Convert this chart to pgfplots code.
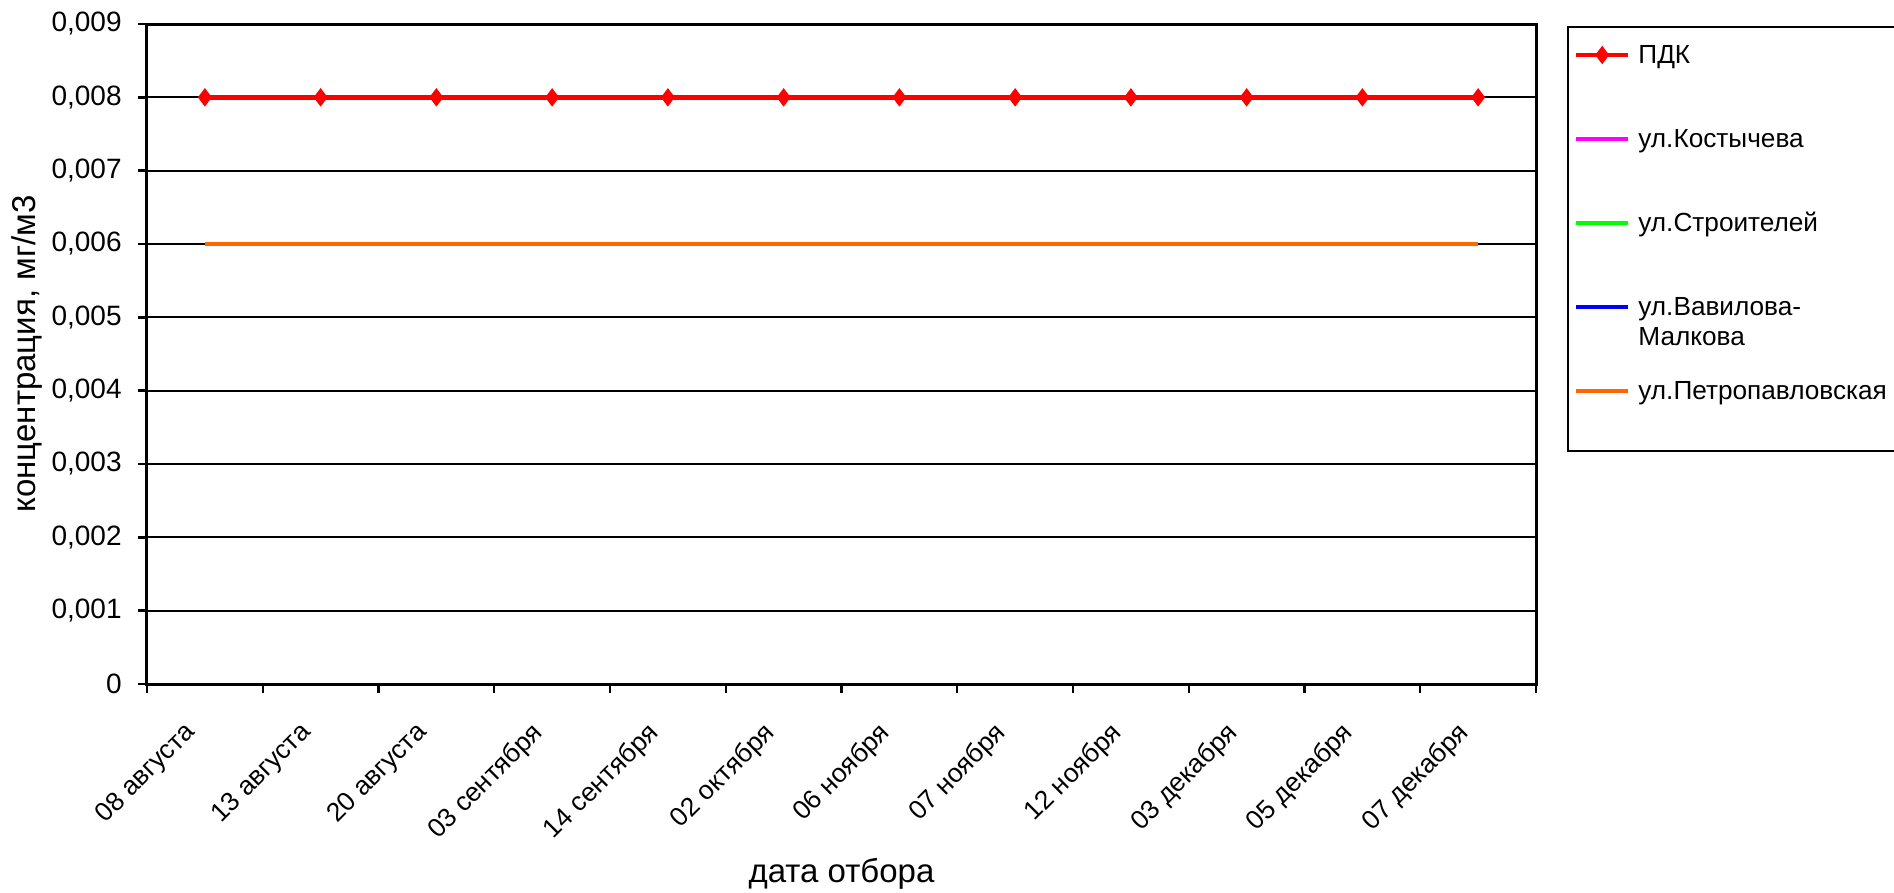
\documentclass[border=0pt]{standalone}
\usepackage{pgfplots}
\pgfplotsset{compat=1.18}
\usepackage{fontspec}
\setmainfont{Liberation Sans}
\newcommand\lstrut{\rule[-4pt]{0pt}{16pt}}
\definecolor{pdk}{RGB}{255,0,0}
\definecolor{kost}{RGB}{255,0,255}
\definecolor{stroi}{RGB}{0,255,0}
\definecolor{vav}{RGB}{0,0,255}
\definecolor{petro}{RGB}{255,102,0}
\begin{document}
\begin{tikzpicture}[font=\fontsize{13.2}{15}\selectfont]
\useasboundingbox (-73.5pt,-104.5pt) rectangle (873.5pt,342pt);
\begin{axis}[
  at={(0,0)}, anchor=south west,
  scale only axis, width=694.5pt, height=330pt,
  xmin=0, xmax=12, ymin=0, ymax=0.009,
  scaled y ticks=false,
  axis line style={line width=1.5pt},
  tick pos=left,
  tick align=outside, major tick length=4.5pt,
  tick style={line width=1.2pt, black},
  xtick={0,1,...,12}, xticklabels={},
  extra x ticks={0.5,1.5,2.5,3.5,4.5,5.5,6.5,7.5,8.5,9.5,10.5,11.5},
  extra x tick labels={08 августа,13 августа,20 августа,03 сентября,14 сентября,02 октября,06 ноября,07 ноября,12 ноября,03 декабря,05 декабря,07 декабря},
  extra x tick style={major tick length=0pt, grid=none,
    xticklabel style={xshift=-11pt, yshift=-18pt, rotate=45, anchor=north east, inner sep=0pt}},
  ytick={0,0.001,0.002,0.003,0.004,0.005,0.006,0.007,0.008,0.009},
  yticklabels={0,{0,001},{0,002},{0,003},{0,004},{0,005},{0,006},{0,007},{0,008},{0,009}},
  yticklabel style={anchor=east, inner sep=0pt, xshift=-8pt, font=\fontsize{14}{16}\selectfont},
  ymajorgrids, xmajorgrids=false,
  grid style={black, line width=1.1pt},
  every axis y label/.style={at={(axis description cs:0,0.5)}, xshift=-60pt, rotate=90, anchor=center, font=\fontsize{16.5}{19}\selectfont},
  every axis x label/.style={at={(axis description cs:0.5,0)}, yshift=-95pt, anchor=center, font=\fontsize{16.5}{19}\selectfont},
  ylabel={концентрация, мг/м3},
  xlabel={дата отбора},
  legend image code/.code={\draw[mark repeat=2,mark phase=2,#1] plot coordinates {(0pt,4pt)(13pt,4pt)(26pt,4pt)};},
  legend style={at={(1,1)}, anchor=north west, xshift=15.5pt, yshift=-1pt,
    draw=black, line width=1pt, inner xsep=3pt, inner ysep=4pt,
    font=\fontsize{13.1}{15}\selectfont,
    row sep=24.5pt, column sep=2pt, cells={anchor=base west, inner sep=0pt}},
]
\addplot[pdk, line width=2.2pt, mark=diamond*, mark size=2.8pt, mark options={solid}] coordinates {
(0.5,0.008)(1.5,0.008)(2.5,0.008)(3.5,0.008)(4.5,0.008)(5.5,0.008)(6.5,0.008)(7.5,0.008)(8.5,0.008)(9.5,0.008)(10.5,0.008)(11.5,0.008)};
\addlegendentry{ПДК\lstrut}
\addplot[kost, line width=2.2pt, no marks] coordinates {
(0.5,0.006)(1.5,0.006)(2.5,0.006)(3.5,0.006)(4.5,0.006)(5.5,0.006)(6.5,0.006)(7.5,0.006)(8.5,0.006)(9.5,0.006)(10.5,0.006)(11.5,0.006)};
\addlegendentry{ул.Костычева\lstrut}
\addplot[stroi, line width=2.2pt, no marks] coordinates {
(0.5,0.006)(1.5,0.006)(2.5,0.006)(3.5,0.006)(4.5,0.006)(5.5,0.006)(6.5,0.006)(7.5,0.006)(8.5,0.006)(9.5,0.006)(10.5,0.006)(11.5,0.006)};
\addlegendentry{ул.Строителей\lstrut}
\addplot[vav, line width=2.2pt, no marks] coordinates {
(0.5,0.006)(1.5,0.006)(2.5,0.006)(3.5,0.006)(4.5,0.006)(5.5,0.006)(6.5,0.006)(7.5,0.006)(8.5,0.006)(9.5,0.006)(10.5,0.006)(11.5,0.006)};
\addlegendentry{\lstrut\smash{\parbox[t]{100pt}{ул.Вавилова-\\Малкова}}}
\addplot[petro, line width=2.2pt, no marks,
  legend image code/.code={\draw[petro, line width=2.2pt] (0pt,4pt)--(26pt,4pt); \path (0pt,-21pt);}] coordinates {
(0.5,0.006)(1.5,0.006)(2.5,0.006)(3.5,0.006)(4.5,0.006)(5.5,0.006)(6.5,0.006)(7.5,0.006)(8.5,0.006)(9.5,0.006)(10.5,0.006)(11.5,0.006)};
\addlegendentry{ул.Петропавловская\lstrut}
\end{axis}
\end{tikzpicture}
\end{document}
